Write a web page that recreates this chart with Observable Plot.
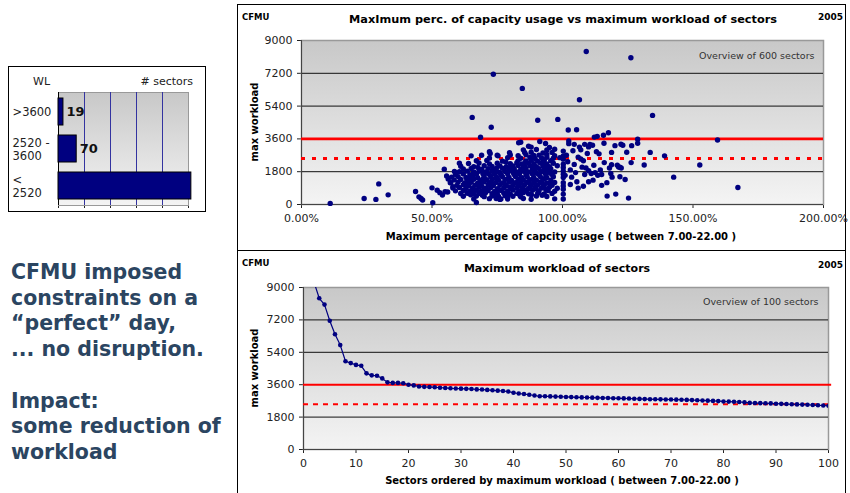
<!DOCTYPE html>
<html><head><meta charset="utf-8">
<script src="https://cdn.jsdelivr.net/npm/d3@7"></script>
<script src="https://cdn.jsdelivr.net/npm/@observablehq/plot@0.6"></script>
<style>
body{margin:0;background:#fff;}
#root{position:relative;width:850px;height:493px;overflow:hidden;font-family:"DejaVu Sans",Verdana,sans-serif;}
.t{position:absolute;white-space:nowrap;line-height:1;}
.box{position:absolute;border:1.5px solid #000;box-sizing:border-box;}
</style></head><body>
<svg width="0" height="0" style="position:absolute"><defs>
<linearGradient id="bg" x1="0" y1="0" x2="0" y2="1"><stop offset="0" stop-color="#c8c8c8"/><stop offset="1" stop-color="#f4f4f4"/></linearGradient>
</defs></svg>
<div id="root"></div>
<script>
// ---------- data ----------
const wlClasses = [">3600", "2520 -\n3600", "<\n2520"];
const wlSectorCounts = [19, 70, 511];
const wlTicks = [0, 100, 200, 300, 400, 500];

const workloadTicks = [0, 1800, 3600, 5400, 7200, 9000];
const pctTicks = [0, 50, 100, 150, 200];
const rankTicks = [0, 10, 20, 30, 40, 50, 60, 70, 80, 90, 100];
const upperLimit = 3600;
const lowerLimit = 2520;

// [max % of capacity usage, max workload]
const capacityVsWorkload = [
  [11,60],[24,330],[28.5,280],[29.6,1130],[33.2,530],[43.7,710],[45,420],[45.8,330],[46.4,250],[50,915],[50.3,100],
  [52,780],[53,650],[54,520],[55,700],[56,690],[54.7,1940],[55.6,1570],[56.2,1400],[57.2,1200],[58,970],[58.6,1810],[60.5,2270],
  [65.4,4780],[68.6,3690],[72.7,4240],[73.5,7150],[84.6,6370],[90.5,4620],[98.2,4670],[102.2,4090],[105.4,4100],
  [109.1,8400],[126.2,8050],[106.5,5750],[134.5,4890],
  [83.2,3390],[84,3420],[87,3200],[91.3,3460],[93.5,3350],[102.4,3490],[102.4,3340],[112.2,3700],[113.3,3740],
  [115.7,3800],[117.6,3940],[115.9,3360],[108.5,3300],[110,3160],[111.5,3250],[113,2900],[114,2780],
  [128.8,3580],[128.8,3360],[120.1,3230],[122.4,3310],[123.1,3250],[126.5,3230],[124.6,2870],[133.6,2860],[139.1,2670],
  [118.8,2860],[126.3,2300],[131.3,2170],[152.6,2170],[159.4,3540],[142.6,1500],[167.2,930],[118.8,2180],[121.5,2060],
  [122.5,2000],[118.5,1700],[122,1520],[124,1370],[120.4,570],[125.3,350],[117.1,460],[111.7,1335],
  [65,2670],[69,2700],[72,2900],[72.3,2800],[75.3,2670],[79.7,2840],[67,110],[74.6,330],[76.4,300],[79,380],
  [101.5,2700],[102,2350],[103,1900],[103.5,1500],[104,2950],[104.5,2200],[105,1750],[105.5,1250],[106,2600],[106.5,3150],
  [107,2500],[107.5,2050],[108,2400],[108.5,1650],[109,2000],[109.5,2800],[110,1850],[110.5,3300],[111,1700],[112,2150],
  [112.5,1750],[113.5,1600],[114.5,1900],[115,1650],[116,2300],[117,1200],[118,2000],[119,1500],[121,2150],[122,2050],
  [103,1100],[106,900],[108,1000],[110,1250],[115,1050],[104.5,3300],[107,3000],[101,1600],
  [100.3,300],[100.3,570],[100.3,840],[100.3,1020],[100.3,1200],[100.3,1480],[100.3,1660],[100.3,1840],[100.3,2030],
  [100.3,2210],[100.3,2490],[100.3,2670],[100.3,2930],
  [66,300],[72,320],[76,280],[79,300],[85,330],[88,290],[97,310],
  [62,450],[67,470],[70,430],[73,460],[75.5,440],[78,480],[81,450],[84,420],[90,470],[94,440],
  [61,600],[63.5,620],[66,580],[68,610],[70.5,640],[73,590],[75,600],[77.5,630],[80,570],[82.5,610],[85,650],[87,590],[90.5,620],[93,580],[96,610],
  [59,750],[62,770],[64.5,730],[67,780],[69,740],[71.5,760],[74,720],[76.5,770],[79,750],[81,790],[83.5,730],[86,760],[88.5,780],[91,740],[94.5,760],[97,730],
  [58,900],[60.5,930],[63,880],[65.5,910],[68,940],[70,890],[72.5,920],[75,870],[77.5,910],[80,950],[82.5,890],[84.5,920],[87,880],[89.5,930],[92,900],[95,940],[98,890],
  [59.5,1050],[62,1080],[64,1030],[66.5,1060],[69,1020],[71.5,1070],[73.5,1040],[76,1090],[78.5,1030],[81,1060],[83,1020],[85.5,1080],[88,1040],[90.5,1070],[93,1030],[96,1060],
  [57,1200],[60,1230],[62.5,1180],[65,1220],[67.5,1170],[70,1240],[72,1190],[74.5,1210],[77,1180],[79.5,1230],[82,1200],[84,1170],[86.5,1220],[89,1190],[91.5,1240],[94,1180],[97,1210],
  [58.5,1350],[61,1370],[63.5,1330],[66,1380],[68.5,1320],[71,1360],[73,1390],[75.5,1340],[78,1370],[80.5,1320],[83,1380],[85,1340],[87.5,1360],[90,1330],[92.5,1370],[95.5,1340],
  [57.5,1500],[60,1530],[63,1480],[65.5,1520],[67.5,1470],[70,1510],[72.5,1540],[75,1490],[77,1520],[79.5,1480],[82,1530],[84.5,1470],[86.5,1510],[89,1490],[91.5,1530],[94,1480],[96.5,1520],
  [59,1650],[62,1680],[64.5,1630],[67,1660],[69.5,1690],[72,1640],[74,1670],[76.5,1620],[79,1680],[81.5,1650],[83.5,1690],[86,1630],[88.5,1670],[91,1640],[93.5,1680],[96,1650],
  [60.5,1800],[63.5,1830],[66,1780],[68,1820],[70.5,1790],[73,1840],[75.5,1770],[78,1810],[80,1850],[82.5,1790],[85,1820],[87,1780],[89.5,1830],[92,1800],[94.5,1840],[97,1790],
  [62,1950],[65,1980],[69,1930],[71.5,1970],[74,1920],[77,1990],[79.5,1940],[81.5,1960],[84,1930],[86,1980],[88.5,1940],[91,1970],[93,1920],[95.5,1960],
  [61,2100],[66,2080],[70,2130],[73,2090],[76,2120],[78.5,2070],[81,2110],[83,2140],[85.5,2090],[87.5,2120],[90,2080],[92.5,2110],[95,2070],[98,2130],
  [64,2250],[68,2280],[72,2230],[75,2260],[80,2240],[82.5,2290],[84.5,2230],[87,2270],[89,2240],[91.5,2280],[94,2220],[96.5,2260],
  [67,2400],[71,2420],[77,2380],[83,2410],[86,2390],[88,2430],[90.5,2380],[93,2420],[95.5,2400],
  [72,2550],[79,2570],[84,2540],[87.5,2580],[89.5,2530],[92,2560],[94,2590],[96.5,2540],[99,2570],
  [75,2700],[80,2720],[83,2680],[86,2730],[89,2690],[91,2710],[94,2740],[97,2680],
  [85.5,2850],[88,2870],[92.5,2830],[96,2860],
  [85,3000],[90,3020],[94,2990],[97,3030],[88,3150],[95,3130],
  [64.8,530],[69.3,510],[74.2,540],[78.8,520],[83.7,500],[88.1,540],[92.2,510],
  [65.8,830],[70.7,850],[75.9,810],[80.6,840],[85.2,820],[89.9,860],[93.6,830],
  [63.7,1130],[68.4,1110],[73.1,1150],[77.9,1120],[82.8,1140],[87.6,1100],[92.4,1130],[95.1,1150],
  [64.3,1430],[69.6,1410],[74.4,1450],[79.1,1420],[83.9,1440],[88.7,1400],[93.2,1430],
  [65.9,1730],[71.2,1710],[76.1,1750],[81.3,1720],[86.4,1740],[90.2,1710],[95.3,1730],
  [67.6,2030],[74.8,2010],[80.2,2040],[84.9,2020],[89.2,2050],[93.8,2010],
  [78.3,2330],[85.8,2320],[92.6,2340]
];

// sectors ordered by maximum workload (rank 1..100)
const maxWorkloadSorted = [
  14000, 9300, 8400, 8050, 7150, 6400, 5800, 4900, 4800, 4700,
  4650, 4230, 4120, 4100, 3950, 3730, 3700, 3700, 3680, 3600,
  3560, 3500, 3480, 3470, 3460, 3430, 3420, 3400, 3390, 3380,
  3370, 3360, 3340, 3330, 3310, 3290, 3270, 3250, 3220, 3150,
  3110, 3080, 3040, 3000, 2960, 2955, 2950, 2940, 2930, 2920,
  2910, 2900, 2895, 2890, 2880, 2870, 2865, 2860, 2850, 2845,
  2840, 2830, 2820, 2810, 2800, 2795, 2790, 2785, 2780, 2775,
  2770, 2765, 2755, 2745, 2735, 2725, 2715, 2700, 2690, 2670,
  2660, 2650, 2640, 2620, 2590, 2580, 2575, 2570, 2560, 2545,
  2535, 2525, 2515, 2505, 2495, 2485, 2470, 2455, 2445, 2430
];

// ---------- helpers ----------
const root = document.getElementById("root");
function label(text, x, y, opt = {}) {
  const d = document.createElement("div");
  d.className = "t";
  d.textContent = text;
  d.style.left = x + "px";
  d.style.top = y + "px";
  const anchor = opt.anchor || "middle";
  const tx = anchor === "start" ? "0" : anchor === "end" ? "-100%" : "-50%";
  d.style.transform = `translate(${tx},-50%)` + (opt.rotate ? ` rotate(${opt.rotate}deg)` : "");
  d.style.fontSize = (opt.size || 11) + "px";
  d.style.fontWeight = opt.bold ? "bold" : "normal";
  d.style.color = opt.color || "#000";
  root.appendChild(d);
  return d;
}
function place(svg, x, y) {
  const w = document.createElement("div");
  w.style.position = "absolute";
  w.style.left = x + "px";
  w.style.top = y + "px";
  w.appendChild(svg);
  root.appendChild(w);
}
function box(x, y, w, h) {
  const d = document.createElement("div");
  d.className = "box";
  Object.assign(d.style, {left: x + "px", top: y + "px", width: w + "px", height: h + "px"});
  root.appendChild(d);
}
const axisStyle = {fontFamily: "DejaVu Sans, Verdana, sans-serif", fontSize: "11px", color: "#222", background: "transparent", overflow: "visible"};
const plain = d => String(d);

// ---------- left bar chart ----------
box(8, 66, 198, 146);
const wlData = wlClasses.map((c, i) => ({wl: c, n: wlSectorCounts[i]}));
place(Plot.plot({
  width: 198, height: 146,
  marginLeft: 50, marginRight: 18, marginTop: 26, marginBottom: 7,
  style: axisStyle,
  x: {domain: [0, 500], ticks: wlTicks, tickSize: 3, tickFormat: () => "", label: null},
  y: {domain: wlClasses, paddingInner: 0.26, paddingOuter: 0.13, axis: null},
  marks: [
    Plot.frame({fill: "url(#bg)", stroke: "#999"}),
    Plot.ruleX(wlTicks.slice(1, 5), {stroke: "#3333a0", strokeWidth: 1}),
    Plot.ruleX([0], {stroke: "#000"}),
    Plot.barX(wlData, {x: "n", y: "wl", fill: "#000080", stroke: "#000", strokeWidth: 1}),
    Plot.text(wlData.slice(0, 2), {x: "n", y: "wl", text: d => String(d.n), dx: 3, textAnchor: "start", fontWeight: "bold", fontSize: 13, fill: "#111"}),
    Plot.text(wlData, {y: "wl", text: "wl", frameAnchor: "left", dx: -46, textAnchor: "start", fontSize: 11.5, lineHeight: 1.2, fill: "#222"})
  ]
}), 8, 66);
label("WL", 33, 80.5, {anchor: "start", size: 11, color: "#222"});
label("# sectors", 193, 80.5, {anchor: "end", size: 11, color: "#222"});

// ---------- left text ----------
const note = document.createElement("div");
note.className = "t";
Object.assign(note.style, {left: "11px", top: "260px", fontSize: "20.5px", fontWeight: "bold", lineHeight: "25.7px", color: "#2b4561"});
note.innerHTML = "CFMU imposed<br>constraints on a<br>\u201cperfect\u201d day,<br>... no disruption.<br><br>Impact:<br>some reduction of<br>workload";
root.appendChild(note);

// ---------- top scatter chart ----------
box(237, 4, 609, 247);
place(Plot.plot({
  width: 607, height: 245,
  marginLeft: 63, marginRight: 22, marginTop: 35, marginBottom: 46,
  style: axisStyle,
  x: {domain: [0, 200], ticks: pctTicks, tickFormat: d => d.toFixed(2) + "%", tickSize: 4, tickPadding: 6, label: null},
  y: {domain: [0, 9000], ticks: workloadTicks, tickFormat: plain, tickSize: 4, tickPadding: 5, label: null},
  marks: [
    Plot.frame({fill: "url(#bg)", stroke: "#999", strokeWidth: 1.5}),
    Plot.ruleY([1800, 5400, 7200], {stroke: "#111", strokeWidth: 1}),
    Plot.ruleX([0], {stroke: "#444"}),
    Plot.ruleY([0], {stroke: "#444"}),
    Plot.ruleY([upperLimit], {stroke: "#ff0000", strokeWidth: 2.6}),
    Plot.ruleY([lowerLimit], {stroke: "#ff0000", strokeWidth: 3, strokeDasharray: "4,7"}),
    Plot.dot(capacityVsWorkload, {x: d => d[0], y: d => d[1], r: 2.7, fill: "#000080", stroke: "none"}),
    Plot.text(["Overview of 600 sectors"], {frameAnchor: "top-right", dx: -9, dy: 12, fontSize: 9.5, fill: "#333"})
  ]
}), 238, 5);
label("CFMU", 242, 17, {anchor: "start", size: 8.5, bold: true});
label("MaxImum perc. of capacity usage vs maximum workload of sectors", 563, 20, {size: 11.3, bold: true});
label("2005", 818, 17, {anchor: "start", size: 9, bold: true});
label("Maximum percentage of capcity usage ( between 7.00-22.00 )", 561, 237, {size: 10, bold: true});
label("max workload", 255, 122, {size: 10, bold: true, rotate: -90});

// ---------- bottom line chart ----------
box(237, 250, 609, 260);
const sectorData = maxWorkloadSorted.map((v, i) => ({rank: i + 1, load: v}));
place(Plot.plot({
  width: 607, height: 242,
  marginLeft: 65, marginRight: 17, marginTop: 36, marginBottom: 44,
  style: axisStyle,
  x: {domain: [0, 100], ticks: rankTicks, tickSize: 4, tickPadding: 6, label: null},
  y: {domain: [0, 9000], ticks: workloadTicks, tickFormat: plain, tickSize: 4, tickPadding: 5, label: null},
  marks: [
    Plot.frame({fill: "url(#bg)", stroke: "#999", strokeWidth: 1.5}),
    Plot.ruleY([1800, 5400, 7200], {stroke: "#111", strokeWidth: 1}),
    Plot.ruleX([0], {stroke: "#444"}),
    Plot.ruleY([0], {stroke: "#444"}),
    Plot.ruleY([upperLimit], {x1: 0, x2: 100.6, stroke: "#ff0000", strokeWidth: 2}),
    Plot.ruleY([lowerLimit], {stroke: "#ff0000", strokeWidth: 2, strokeDasharray: "5,5"}),
    Plot.line(sectorData, {x: "rank", y: "load", stroke: "#000080", strokeWidth: 1.2, clip: true}),
    Plot.dot(sectorData, {x: "rank", y: "load", r: 2.3, fill: "#000080", stroke: "none", clip: true}),
    Plot.text(["Overview of 100 sectors"], {frameAnchor: "top-right", dx: -10, dy: 10.5, fontSize: 9.5, fill: "#333"})
  ]
}), 238, 251);
label("CFMU", 242, 263, {anchor: "start", size: 8.5, bold: true});
label("Maximum workload of sectors", 557, 268, {size: 11, bold: true});
label("2005", 818, 265, {anchor: "start", size: 9, bold: true});
label("Sectors ordered by maximum workload ( between 7.00-22.00 )", 562, 481, {size: 10, bold: true});
label("max workload", 255, 368, {size: 10, bold: true, rotate: -90});
</script>
</body></html>
